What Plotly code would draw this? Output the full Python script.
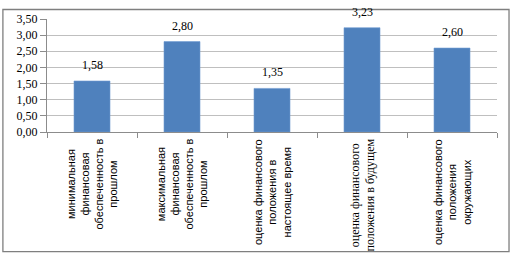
import plotly.graph_objects as go

categories = ["c1", "c2", "c3", "c4", "c5"]
values = [1.58, 2.80, 1.35, 3.23, 2.60]
value_labels = ["1,58", "2,80", "1,35", "3,23", "2,60"]
labels = [
    "минимальная<br>финансовая<br>обеспеченность в<br>прошлом",
    "максимальная<br>финансовая<br>обеспеченность в<br>прошлом",
    "оценка финансового<br>положения в<br>настоящее время",
    "оценка финансового<br>положения в будущем",
    "оценка финансового<br>положения<br>окружающих",
]
label_fonts = ["Liberation Sans", "Liberation Sans", "Liberation Sans",
               "Liberation Serif", "Liberation Sans"]
label_sizes = [11, 11, 11, 12, 11]
y_ticks = [0, 0.5, 1.0, 1.5, 2.0, 2.5, 3.0, 3.5]

fig = go.Figure()
fig.add_trace(go.Bar(
    x=categories, y=values,
    marker=dict(color="#4F81BD", line=dict(color="#6f9bd1", width=0.6)),
    hoverinfo="skip",
))

annotations = []
for c, v, t in zip(categories, values, value_labels):
    annotations.append(dict(
        x=c, y=v, xref="x", yref="y", text=t, showarrow=False,
        xanchor="center", yanchor="bottom", yshift=7,
        font=dict(family="Liberation Serif", size=12, color="#000000"),
    ))
for c, lab, fnt, sz in zip(categories, labels, label_fonts, label_sizes):
    annotations.append(dict(
        x=c, y=0, xref="x", yref="y", text=lab, showarrow=False,
        textangle=-90, xanchor="center", yanchor="top", yshift=-5, align="center",
        font=dict(family=fnt, size=sz, color="#000000"),
    ))

fig.update_layout(
    width=513, height=263,
    margin=dict(l=47, r=16, t=13, b=131),
    paper_bgcolor="white", plot_bgcolor="white",
    separators=", ",
    showlegend=False,
    bargap=0.6,
    annotations=annotations,
    shapes=[dict(type="rect", xref="paper", yref="paper", layer="above",
                 x0=-0.098, x1=1.0267, y0=-1.0588, y1=1.084,
                 line=dict(color="#7f7f7f", width=1.3))],
    xaxis=dict(type="category", showticklabels=False, tickson="boundaries",
               ticks="outside", ticklen=5, tickcolor="#8c8c8c",
               showline=True, linecolor="#8c8c8c", linewidth=1, showgrid=False),
    yaxis=dict(range=[0, 3.5], tickvals=y_ticks, tickformat=".2f",
               ticks="outside", ticklen=6, tickcolor="#8c8c8c",
               showline=True, linecolor="#8c8c8c", linewidth=1,
               gridcolor="#bfbfbf", gridwidth=1, zeroline=False,
               tickfont=dict(family="Liberation Serif", size=12, color="#000000")),
)
fig.write_html("out.html", config={"displayModeBar": False},
               post_script="document.body.style.margin='0';")
